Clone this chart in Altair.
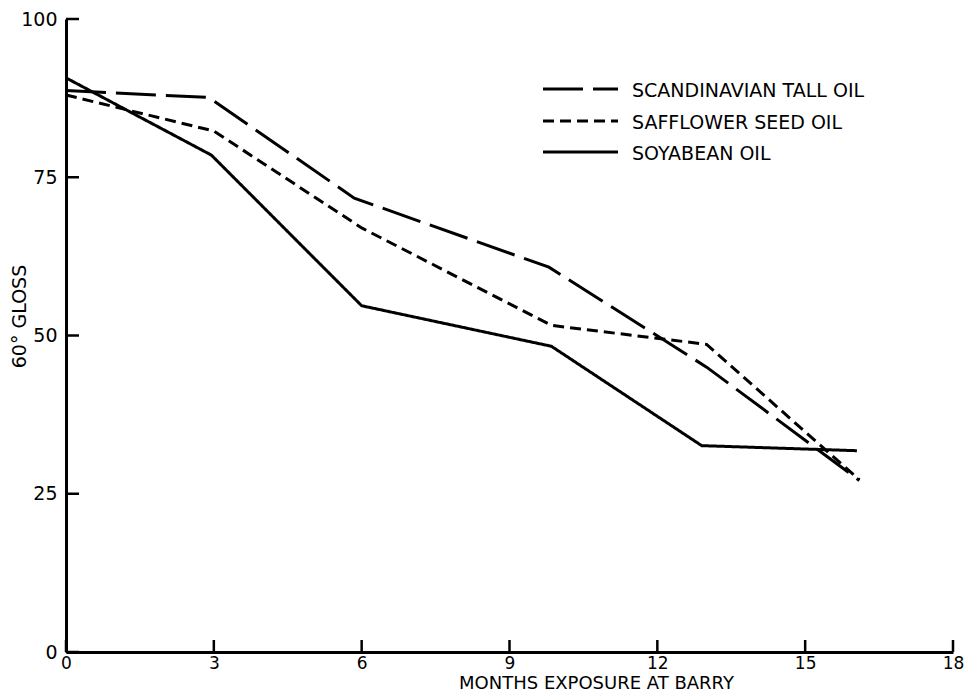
import altair as alt
import pandas as pd

# ---- data ----
series_names = ["SCANDINAVIAN TALL OIL", "SAFFLOWER SEED OIL", "SOYABEAN OIL"]

tall_months = [0, 2.9, 5.85, 9.8, 13.0, 16.1]
tall_gloss = [88.7, 87.6, 71.7, 60.8, 45.0, 27.1]

saff_months = [0, 3.0, 6.0, 9.85, 13.0, 16.1]
saff_gloss = [88.0, 82.3, 67.0, 51.6, 48.6, 27.2]

soy_months = [0, 2.95, 6.0, 9.85, 12.9, 16.05]
soy_gloss = [90.7, 78.5, 54.7, 48.3, 32.6, 31.8]

x_ticks = [0, 3, 6, 9, 12, 15, 18]
y_ticks = [0, 25, 50, 75, 100]

# ---- build tables ----
rows = []
for name, ms, gs in [
    (series_names[0], tall_months, tall_gloss),
    (series_names[1], saff_months, saff_gloss),
    (series_names[2], soy_months, soy_gloss),
]:
    for i, (m, g) in enumerate(zip(ms, gs)):
        rows.append({"series": name, "month": m, "gloss": g, "order": i})
df = pd.DataFrame(rows)

dashes = [[40, 10], [11, 6], [1, 0]]
FONT = "DejaVu Sans"
W, H = 887, 633
LEFT, TOP = 66, 19

xscale = alt.Scale(domain=[0, 18], nice=False, zero=False)
yscale = alt.Scale(domain=[0, 100], nice=False)

lines = alt.Chart(df).mark_line(color="black", strokeWidth=3).encode(
    x=alt.X(
        "month:Q",
        scale=xscale,
        axis=alt.Axis(
            values=x_ticks,
            title="MONTHS EXPOSURE AT BARRY",
            titleX=530,
            titleY=36,
            titleAlign="center",
            titleBaseline="alphabetic",
            titleFontSize=18,
            titleColor="black",
            labelPadding=3,
            labelFontSize=17,
            labelFlush=False,
            format="d",
        ),
    ),
    y=alt.Y(
        "gloss:Q",
        scale=yscale,
        axis=alt.Axis(
            values=y_ticks,
            title="60° GLOSS",
            titleAngle=270,
            titleX=-47,
            titleY=297,
            titleAlign="center",
            titleBaseline="middle",
            titleFontSize=19,
            titleColor="black",
            labelPadding=9,
            labelFontSize=19,
            labelFlush=False,
            format="d",
        ),
    ),
    strokeDash=alt.StrokeDash(
        "series:N",
        scale=alt.Scale(domain=series_names, range=dashes),
        legend=None,
    ),
    order="order:Q",
)

ytick_df = pd.DataFrame({"v": y_ticks})
xtick_df = pd.DataFrame({"v": x_ticks})

yticks = alt.Chart(ytick_df).mark_rule(color="black", strokeWidth=2.5).encode(
    y=alt.Y("v:Q", scale=yscale),
    x=alt.value(0),
    x2=alt.value(13),
)
xticks = alt.Chart(xtick_df).mark_rule(color="black", strokeWidth=2.5).encode(
    x=alt.X("v:Q", scale=xscale),
    y=alt.value(H),
    y2=alt.value(H - 12),
)

# ---- hand-placed legend (as in the reference) ----
leg_x0, leg_x1, leg_tx = 543 - LEFT, 618 - LEFT, 632 - LEFT
leg_ys = [89 - TOP, 121 - TOP, 152 - TOP]
legend_layers = []
for name, dash, ly in zip(series_names, dashes, leg_ys):
    legend_layers.append(
        alt.Chart(pd.DataFrame({"name": [name]})).mark_rule(
            color="black", strokeWidth=3, strokeDash=dash
        ).encode(x=alt.value(leg_x0), x2=alt.value(leg_x1), y=alt.value(ly))
    )
    legend_layers.append(
        alt.Chart(pd.DataFrame({"name": [name]})).mark_text(
            align="left", baseline="middle", font=FONT, fontSize=19, color="black"
        ).encode(x=alt.value(leg_tx), y=alt.value(ly + 2), text="name:N")
    )

chart = alt.layer(lines, yticks, xticks, *legend_layers).properties(
    width=W,
    height=H,
    padding={"left": LEFT, "top": TOP, "right": 12, "bottom": 40},
    autosize=alt.AutoSizeParams(type="none"),
    background="white",
).configure_view(stroke=None).configure_axis(
    grid=False,
    ticks=False,
    domainColor="black",
    domainWidth=3,
    labelFont=FONT,
    labelColor="black",
    titleFont=FONT,
    titleColor="black",
    titleFontWeight="normal",
)

chart.save("out.html", embed_options={"renderer": "svg", "actions": False})
